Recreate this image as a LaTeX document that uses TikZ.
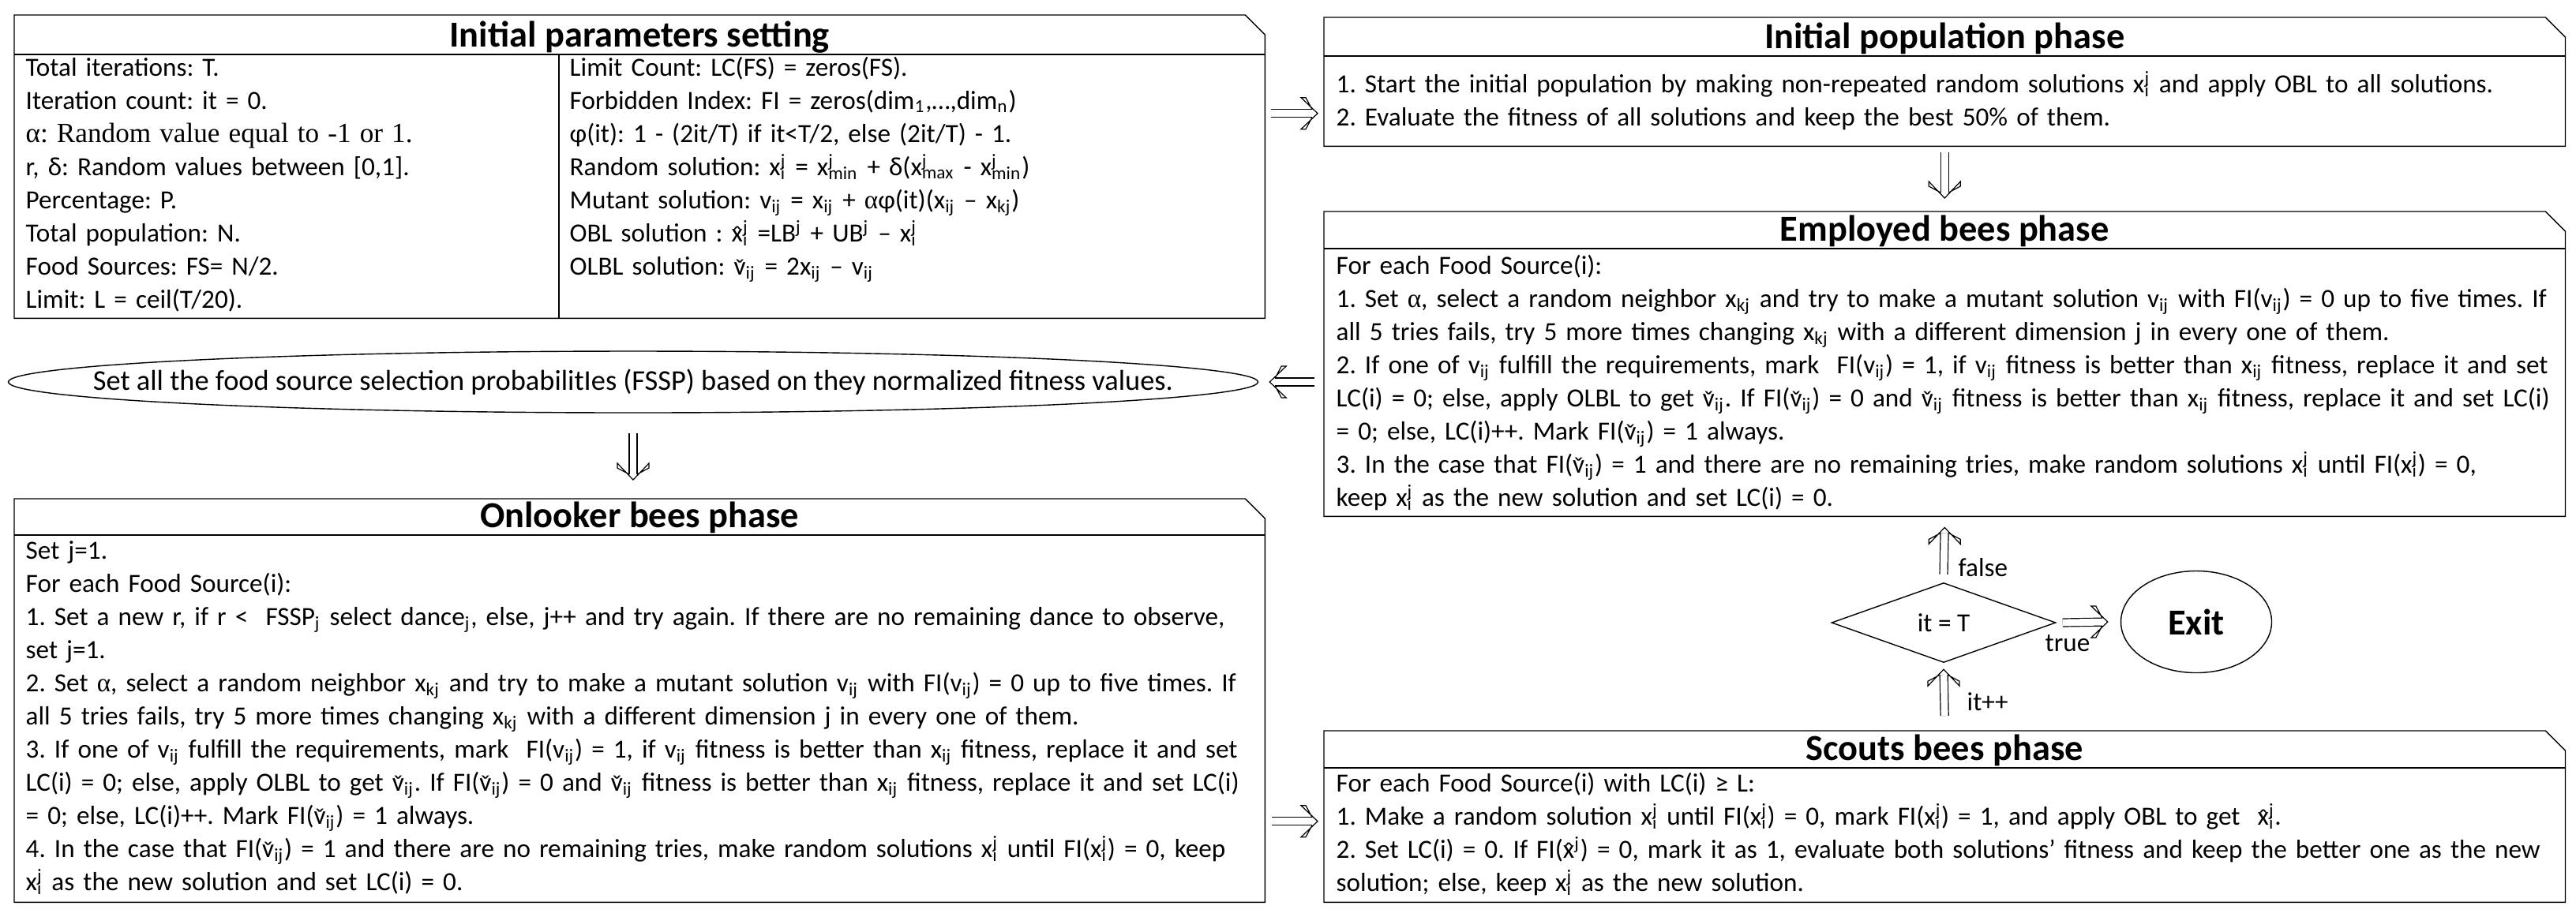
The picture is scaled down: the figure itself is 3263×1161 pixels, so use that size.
\documentclass[tikz,border=0pt]{standalone}
\usepackage{fontspec}
\setmainfont{Carlito}
\newfontfamily\tnr{Liberation Serif}
\usetikzlibrary{shapes.geometric,calc}
\newcommand\mysub[1]{\textsubscript{#1}}
\newcommand\mysup[1]{\textsuperscript{#1}}
\newcommand\mysupsub[2]{\rlap{\textsuperscript{#1}}\textsubscript{#2}}
\newcommand\fstrut{\rule{0pt}{9pt}}
\newcommand\accx[2]{\leavevmode\hbox{\ooalign{#1\cr\hidewidth\raisebox{-0.2ex}{#2}\hidewidth\cr}}}
\newcommand\vc{\accx{v}{ˇ}}
\newcommand\xh{\accx{x}{ˆ}}
\newcommand\alp{{\tnr α}}
\newcommand\DArr[3]{\draw[shaft] #1 -- #2; \pic[rotate=#3] at #2 {dhead};}
\newcommand\notchbox[2]{%
  \draw (#1.south west) -- (#1.north west) -- ($(#1.north east)+(-25,0)$) -- ($(#1.north east)+(0,25)$) -- (#1.south east) -- cycle;
  \draw ($(#1.north west)+(0,#2)$) -- ($(#1.north east)+(0,#2)$);}
\begin{document}
\lineskiplimit=-20pt
\frenchspacing
\begin{tikzpicture}[x=0.25pt,y=-0.25pt,line width=0.35pt,
  box/.style={draw=none,rectangle,inner sep=0,anchor=north west},
  ttl/.style={font=\fontsize{11.6}{13}\selectfont\bfseries,inner sep=0,anchor=base},
  body/.style={font=\fontsize{8.3}{10.5}\selectfont\frenchspacing,inner sep=0,anchor=north west,text width=500pt,align=left},
  lab/.style={font=\fontsize{8.3}{10}\selectfont,inner sep=0},
  shaft/.style={double,double distance=2.2pt,line width=0.3pt,shorten >=1.75pt},
  pics/dhead/.style={code={\draw[line width=0.3pt,line join=miter] (-7,-5) -- (-15,-20) -- (-21,-20) -- (0,0) -- (-21,20) -- (-15,20) -- (-7,5);}}]
\useasboundingbox (0,0) rectangle (3263,1161);

% boxes
\node[box,minimum width=395.75pt,minimum height=95.75pt] (params) at (18,19) {};
\node[box,minimum width=392.75pt,minimum height=40.5pt] (pop) at (1677,22) {};
\node[box,minimum width=392.75pt,minimum height=96.25pt] (emp) at (1677,268) {};
\node[box,minimum width=395.75pt,minimum height=127.5pt] (onl) at (18,632) {};
\node[box,minimum width=392.75pt,minimum height=54pt] (sco) at (1677,926) {};
\notchbox{params}{50}
\notchbox{pop}{49}
\notchbox{emp}{47}
\notchbox{onl}{46}
\notchbox{sco}{47}
\draw ($(params.north west)+(690,50)$) -- ($(params.south west)+(690,0)$);

% titles
\node[ttl] (params-t) at ($(params.north)+(0,40)$) {Initial parameters setting};
\node[ttl] (pop-t) at ($(pop.north)+(0,39)$) {Initial population phase};
\node[ttl] (emp-t) at ($(emp.north)+(0,37)$) {Employed bees phase};
\node[ttl] (onl-t) at ($(onl.north)+(0,36)$) {Onlooker bees phase};
\node[ttl] (sco-t) at ($(sco.north)+(0,37)$) {Scouts bees phase};

% texts
\node[body] (params-l) at (32,60) {\fstrut Total iterations: T.\\
Iteration count: it = 0.\\
{\tnr\fontsize{8.8}{10.5}\selectfont α: Random value equal to -1 or 1.}\\
r, δ: Random values between [0,1].\\
Percentage: P.\\
Total population: N.\\
Food Sources: FS= N/2.\\
Limit: L = ceil(T/20).};
\node[body] (params-r) at (721,60) {\fstrut Limit Count: LC(FS) = zeros(FS).\\
Forbidden Index: FI = zeros(dim\mysub{1},…,dim\mysub{n})\\
φ(it): 1 - (2it/T) if it<T/2, else (2it/T) - 1.\\
Random solution: x\mysupsub{j}{i} = x\mysupsub{j}{min} + δ(x\mysupsub{j}{max} - x\mysupsub{j}{min})\\
Mutant solution: v\mysub{ij} = x\mysub{ij} + \alp φ(it)(x\mysub{ij} – x\mysub{kj})\\
OBL solution : \xh\mysupsub{j}{i} =LB\mysup{j} + UB\mysup{j} – x\mysupsub{j}{i}\\
OLBL solution: \vc\mysub{ij} = 2x\mysub{ij} – v\mysub{ij}};
\node[body] (pop-x) at (1692,81) {\fstrut 1. Start the initial population by making non-repeated random solutions x\mysupsub{j}{i} and apply OBL to all solutions.\\
2. Evaluate the fitness of all solutions and keep the best 50\% of them.};
\node[body] (emp-x) at (1692,311) {\fstrut For each Food Source(i):\\
1. Set \alp, select a random neighbor x\mysub{kj} and try to make a mutant solution v\mysub{ij} with FI(v\mysub{ij}) = 0 up to five times. If\\
all 5 tries fails, try 5 more times changing x\mysub{kj} with a different dimension j in every one of them.\\
2. If one of v\mysub{ij} fulfill the requirements, mark\ \ FI(v\mysub{ij}) = 1, if v\mysub{ij} fitness is better than x\mysub{ij} fitness, replace it and set\\
LC(i) = 0; else, apply OLBL to get \vc\mysub{ij}. If FI(\vc\mysub{ij}) = 0 and \vc\mysub{ij} fitness is better than x\mysub{ij} fitness, replace it and set LC(i)\\
= 0; else, LC(i)++. Mark FI(\vc\mysub{ij}) = 1 always.\\
3. In the case that FI(\vc\mysub{ij}) = 1 and there are no remaining tries, make random solutions x\mysupsub{j}{i} until FI(x\mysupsub{j}{i}) = 0,\\
keep x\mysupsub{j}{i} as the new solution and set LC(i) = 0.};
\node[body] (onl-x) at (32,672) {\fstrut Set j=1.\\
For each Food Source(i):\\
1. Set a new r, if r <\ \ FSSP\mysub{j} select dance\mysub{j}, else, j++ and try again. If there are no remaining dance to observe,\\
set j=1.\\
2. Set \alp, select a random neighbor x\mysub{kj} and try to make a mutant solution v\mysub{ij} with FI(v\mysub{ij}) = 0 up to five times. If\\
all 5 tries fails, try 5 more times changing x\mysub{kj} with a different dimension j in every one of them.\\
3. If one of v\mysub{ij} fulfill the requirements, mark\ \ FI(v\mysub{ij}) = 1, if v\mysub{ij} fitness is better than x\mysub{ij} fitness, replace it and set\\
LC(i) = 0; else, apply OLBL to get \vc\mysub{ij}. If FI(\vc\mysub{ij}) = 0 and \vc\mysub{ij} fitness is better than x\mysub{ij} fitness, replace it and set LC(i)\\
= 0; else, LC(i)++. Mark FI(\vc\mysub{ij}) = 1 always.\\
4. In the case that FI(\vc\mysub{ij}) = 1 and there are no remaining tries, make random solutions x\mysupsub{j}{i} until FI(x\mysupsub{j}{i}) = 0, keep\\
x\mysupsub{j}{i} as the new solution and set LC(i) = 0.};
\node[body] (sco-x) at (1692,967) {\fstrut For each Food Source(i) with LC(i) ≥ L:\\
1. Make a random solution x\mysupsub{j}{i} until FI(x\mysupsub{j}{i}) = 0, mark FI(x\mysupsub{j}{i}) = 1, and apply OBL to get\ \ \xh\mysupsub{j}{i}.\\
2. Set LC(i) = 0. If FI(\xh\mysup{j}) = 0, mark it as 1, evaluate both solutions’ fitness and keep the better one as the new\\
solution; else, keep x\mysupsub{j}{i} as the new solution.};

% ellipse, decision, exit
\node[ellipse,draw,minimum width=395.75pt,minimum height=19.5pt,inner sep=0] (fssp) at (802,484)
  {\makebox[0pt]{\fontsize{9.1}{10}\selectfont Set all the food source selection probabilitIes (FSSP) based on they normalized fitness values.}};
\node[diamond,draw,minimum width=71pt,minimum height=25.25pt,inner sep=0,font=\fontsize{8.3}{10}\selectfont] (dec) at (2462,789) {it = T};
\node[ellipse,draw,minimum width=47.75pt,minimum height=32.25pt,inner sep=0,font=\fontsize{11.6}{13}\selectfont\bfseries] (exit) at (2782,788) {Exit};

% arrows
\DArr{([xshift=-16.75pt,yshift=-10pt]pop.west)}{([xshift=-2pt,yshift=-10pt]pop.west)}{0}
\DArr{([yshift=-2pt]pop.south)}{([yshift=4.25pt]emp.north)}{-90}
\DArr{([xshift=-3pt]emp.west |- fssp.east)}{([xshift=3.5pt]fssp.east)}{180}
\DArr{([yshift=-6.25pt]fssp.south)}{([yshift=6pt]fssp.south |- onl.north)}{-90}
\DArr{([xshift=-16.5pt,yshift=-1.5pt]sco.west)}{([xshift=-2pt,yshift=-1.5pt]sco.west)}{0}
\DArr{([yshift=4.75pt]sco.north)}{([yshift=-2pt]dec.south)}{90}
\DArr{([yshift=2.5pt]dec.north)}{([yshift=-3.5pt]emp.south)}{90}
\DArr{([xshift=2pt]dec.east)}{([xshift=-4pt]exit.west)}{0}

% labels
\node[lab,anchor=base west] (lfalse) at (2480,730) {false};
\node[lab,anchor=base] (ltrue) at (2619,825) {true};
\node[lab,anchor=base west] (lit) at (2491,900) {it++};
\end{tikzpicture}
\end{document}
